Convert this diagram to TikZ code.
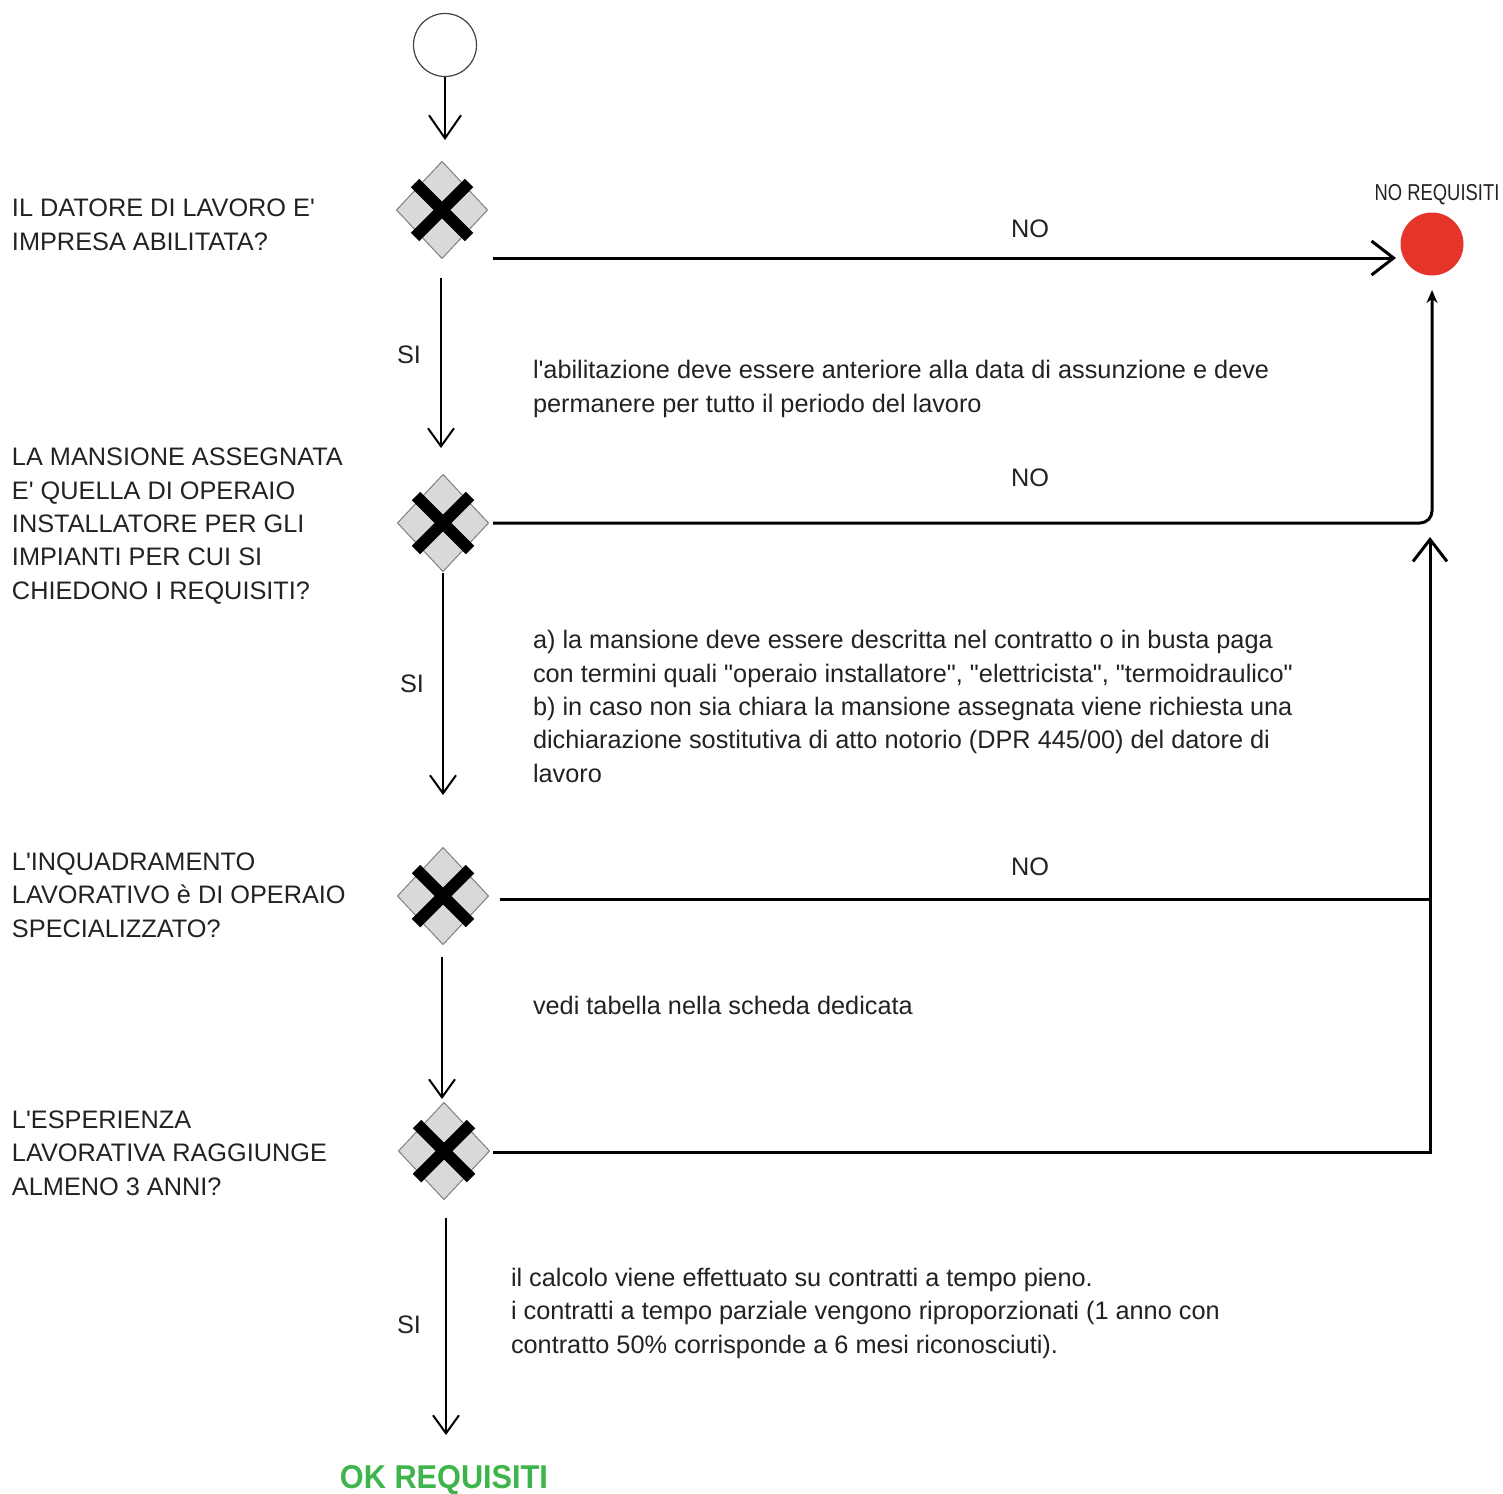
\documentclass[tikz,border=0pt]{standalone}
\usepackage{fontspec}
\setmainfont{Liberation Sans}[Ligatures=TeXOff]
\usetikzlibrary{arrows.meta,shapes.geometric}
\definecolor{txt}{HTML}{222222}
\definecolor{gatefill}{HTML}{D9D9D9}
\definecolor{gateline}{HTML}{7F7F7F}
\definecolor{nored}{HTML}{E5352B}
\definecolor{okgreen}{HTML}{3DB54A}
\begin{document}
\begin{tikzpicture}[x=1pt,y=-1pt,
  every node/.style={inner sep=0pt,outer sep=0pt,text=txt},
  lbl/.style={anchor=base west,align=left,font=\fontsize{25.3}{33.3}\selectfont},
  short/.style={anchor=base,font=\fontsize{25.3}{33}\selectfont},
  gate/.style={diamond,minimum width=91pt,minimum height=97pt,fill=gatefill,draw=gateline,line width=1pt},
  xbar/.style={line width=12pt,black},
  siarrow/.style={line width=2pt,black,-{Straight Barb[length=18pt,width=26pt,line width=2pt]}},
  noline/.style={line width=3pt,black},
  bigbarb/.style={-{Straight Barb[length=22pt,width=34pt,line width=3pt]}}
]
\useasboundingbox (0,0) rectangle (1503,1493);

% start
\node[circle,draw=black!75,line width=1.2pt,minimum size=63pt] (start) at (445,45) {};
% gates
\node[gate] (g1) at (442,210) {};
\node[gate] (g2) at (443,523) {};
\node[gate] (g3) at (443,896) {};
\node[gate] (g4) at (444,1151) {};
\foreach \g in {g1,g2,g3,g4}{
  \draw[xbar] ([shift={(-27,-27)}]\g.center) -- ([shift={(27,27)}]\g.center);
  \draw[xbar] ([shift={(-27,27)}]\g.center) -- ([shift={(27,-27)}]\g.center);
}
% end nodes
\node[circle,fill=nored,minimum size=63pt] (stop) at (1432,244) {};
\node[anchor=base,font=\fontsize{23}{24}\selectfont] (stoplbl) at (1437,200) {\scalebox{0.8}[1]{NO REQUISITI}};
\node[anchor=base,font=\bfseries\fontsize{33}{34}\selectfont,text=okgreen] (ok) at (444,1488) {\scalebox{0.93}[1]{OK REQUISITI}};

% coordinates
\coordinate (s0) at (445,77);
\coordinate (s1) at (445,140);
\coordinate (a1) at (441,278);
\coordinate (b1) at (441,448);
\coordinate (a2) at (443,573);
\coordinate (b2) at (443,795);
\coordinate (a3) at (442,957);
\coordinate (b3) at (442,1099);
\coordinate (a4) at (446,1218);
\coordinate (b4) at (446,1435);
\coordinate (n1s) at (493,258);
\coordinate (n1e) at (1396,258);
\coordinate (n2s) at (493,523);
\coordinate (n2c) at (1432,523);
\coordinate (n2e) at (1432,290);
\coordinate (n3s) at (500,899);
\coordinate (n3e) at (1430,899);
\coordinate (n4s) at (493,1152);
\coordinate (n4c) at (1430,1152);
\coordinate (n4e) at (1430,537);

% arrows
\draw[line width=2pt,-{Straight Barb[length=23pt,width=32pt,line width=2pt]}] (s0) -- (s1);
\draw[siarrow] (a1) -- (b1);
\draw[siarrow] (a2) -- (b2);
\draw[siarrow] (a3) -- (b3);
\draw[siarrow] (a4) -- (b4);
\draw[noline,bigbarb] (n1s) -- (n1e);
\draw[noline,rounded corners=12pt,-{Stealth[length=13pt,width=11pt]}] (n2s) -- (n2c) -- (n2e);
\draw[noline] (n3s) -- (n3e);
\draw[noline,bigbarb] (n4s) -- (n4c) -- (n4e);

% labels
\node[short] (no1) at (1030,237) {NO};
\node[short] (no2) at (1030,486) {NO};
\node[short] (no3) at (1030,875) {NO};
\node[short] (si1) at (409,363) {SI};
\node[short] (si2) at (412,692) {SI};
\node[short] (si4) at (409,1333) {SI};

% (base anchor = baseline of the last line)
\node[lbl] (q1) at (12,250) {IL DATORE DI LAVORO E'\\IMPRESA ABILITATA?};
\node[lbl] (q2) at (12,599) {LA MANSIONE ASSEGNATA\\E' QUELLA DI OPERAIO\\INSTALLATORE PER GLI\\IMPIANTI PER CUI SI\\CHIEDONO I REQUISITI?};
\node[lbl] (q3) at (12,937) {L'INQUADRAMENTO\\LAVORATIVO è DI OPERAIO\\SPECIALIZZATO?};
\node[lbl] (q4) at (12,1195) {L'ESPERIENZA\\LAVORATIVA RAGGIUNGE\\ALMENO 3 ANNI?};

\node[lbl] (t1) at (533,412) {l'abilitazione deve essere anteriore alla data di assunzione e deve\\permanere per tutto il periodo del lavoro};
\node[lbl] (t2) at (533,782) {a) la mansione deve essere descritta nel contratto o in busta paga\\con termini quali "operaio installatore", "elettricista", "termoidraulico"\\b) in caso non sia chiara la mansione assegnata viene richiesta una\\dichiarazione sostitutiva di atto notorio (DPR 445/00) del datore di\\lavoro};
\node[lbl] (t3) at (533,1014) {vedi tabella nella scheda dedicata};
\node[lbl] (t4) at (511,1353) {il calcolo viene effettuato su contratti a tempo pieno.\\i contratti a tempo parziale vengono riproporzionati (1 anno con\\contratto 50\% corrisponde a 6 mesi riconosciuti).};
\end{tikzpicture}
\end{document}
